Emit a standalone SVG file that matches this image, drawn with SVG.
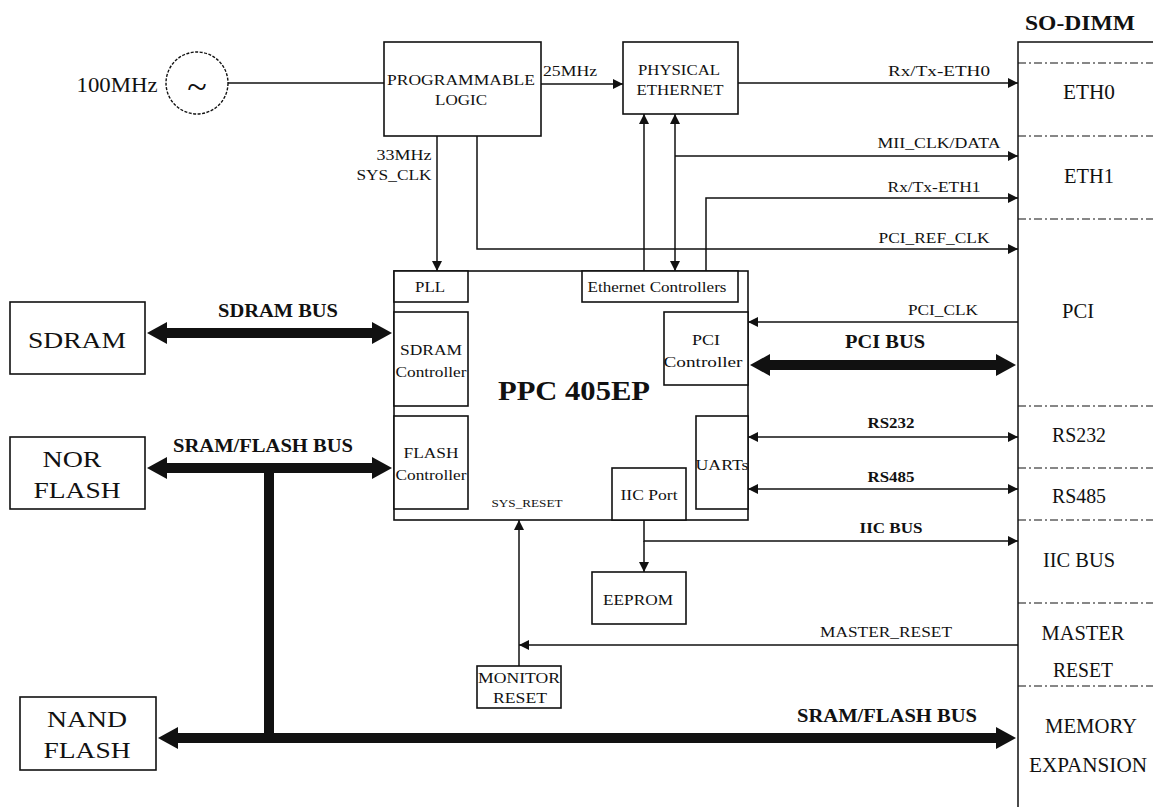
<svg xmlns="http://www.w3.org/2000/svg" width="1153" height="807" viewBox="0 0 1153 807">
<style>
.box{fill:#fff;stroke:#111;stroke-width:1.6}
text{font-family:"Liberation Serif",serif;fill:#111;text-anchor:middle}
.s{font-size:14px}
.m{font-size:15px}
.l{font-size:20px}
.xl{font-size:24px}
.b{font-weight:bold}
.w{stroke:#111;stroke-width:1.5;fill:none}
.bus{stroke:#111;stroke-width:10;fill:none}
.dd{stroke:#111;stroke-width:1.2;stroke-dasharray:8 3 2 3}
</style>
<defs>
<marker id="a" markerUnits="userSpaceOnUse" viewBox="0 0 10 10" markerWidth="10" markerHeight="10" refX="10" refY="5" orient="auto-start-reverse"><path d="M0,0 L10,5 L0,10 z" fill="#111"/></marker>
<marker id="A" markerUnits="userSpaceOnUse" viewBox="0 0 20 22" markerWidth="20" markerHeight="22" refX="2" refY="11" orient="auto-start-reverse"><path d="M0,0 L20,11 L0,22 z" fill="#111"/></marker>
</defs>

<g id="sodimm">
<text class="b" style="font-size:22px" x="1080" y="30" textLength="110" lengthAdjust="spacingAndGlyphs">SO-DIMM</text>
<path d="M1018,807 V42 H1153" class="w"/>
<line class="dd" x1="1018" y1="63" x2="1153" y2="63"/>
<line class="dd" x1="1018" y1="136" x2="1153" y2="136"/>
<line class="dd" x1="1018" y1="219" x2="1153" y2="219"/>
<line class="dd" x1="1018" y1="406" x2="1153" y2="406"/>
<line class="dd" x1="1018" y1="468" x2="1153" y2="468"/>
<line class="dd" x1="1018" y1="520" x2="1153" y2="520"/>
<line class="dd" x1="1018" y1="603" x2="1153" y2="603"/>
<line class="dd" x1="1018" y1="686" x2="1153" y2="686"/>
<text class="l" x="1089" y="99" textLength="52" lengthAdjust="spacingAndGlyphs">ETH0</text>
<text class="l" x="1089" y="183" textLength="50" lengthAdjust="spacingAndGlyphs">ETH1</text>
<text class="l" x="1078" y="318" textLength="32" lengthAdjust="spacingAndGlyphs">PCI</text>
<text class="l" x="1079" y="442" textLength="54" lengthAdjust="spacingAndGlyphs">RS232</text>
<text class="l" x="1079" y="503" textLength="54" lengthAdjust="spacingAndGlyphs">RS485</text>
<text class="l" x="1079" y="567" textLength="72" lengthAdjust="spacingAndGlyphs">IIC BUS</text>
<text class="l" x="1083" y="640" textLength="83" lengthAdjust="spacingAndGlyphs">MASTER</text>
<text class="l" x="1083" y="677" textLength="60" lengthAdjust="spacingAndGlyphs">RESET</text>
<text class="l" x="1091" y="733" textLength="92" lengthAdjust="spacingAndGlyphs">MEMORY</text>
<text class="l" x="1088" y="772" textLength="118" lengthAdjust="spacingAndGlyphs">EXPANSION</text>
</g>

<g id="osc">
<text style="font-size:22px" x="117" y="92" textLength="81" lengthAdjust="spacingAndGlyphs">100MHz</text>
<circle cx="197" cy="83" r="31" fill="#fff" stroke="#111" stroke-width="1.4" stroke-dasharray="3 1.5"/>
<text x="197" y="99" style="font-size:36px">~</text>
</g>

<g id="plogic">
<rect class="box" x="384" y="42" width="157" height="94"/>
<text class="m" x="461" y="85" textLength="148" lengthAdjust="spacingAndGlyphs">PROGRAMMABLE</text>
<text class="m" x="461" y="105" textLength="52" lengthAdjust="spacingAndGlyphs">LOGIC</text>
</g>

<g id="phy">
<rect class="box" x="623" y="42" width="115" height="72"/>
<text class="m" x="679" y="75" textLength="82" lengthAdjust="spacingAndGlyphs">PHYSICAL</text>
<text class="m" x="680" y="95" textLength="87" lengthAdjust="spacingAndGlyphs">ETHERNET</text>
</g>

<g id="ppc">
<rect class="box" x="394" y="271" width="354" height="249"/>
<text class="b" x="574" y="400" style="font-size:28px" textLength="152" lengthAdjust="spacingAndGlyphs">PPC 405EP</text>
<text x="527" y="507" style="font-size:11px" textLength="71" lengthAdjust="spacingAndGlyphs">SYS_RESET</text>
</g>
<g id="pll"><rect class="box" x="394" y="271" width="74" height="31"/><text class="s" x="430" y="292" textLength="30" lengthAdjust="spacingAndGlyphs">PLL</text></g>
<g id="ethctl"><rect class="box" x="582" y="271" width="156" height="31"/><text class="s" x="657" y="292" textLength="139" lengthAdjust="spacingAndGlyphs">Ethernet Controllers</text></g>
<g id="sdramctl"><rect class="box" x="394" y="312" width="74" height="94"/><text class="s" x="431" y="355" textLength="62" lengthAdjust="spacingAndGlyphs">SDRAM</text><text class="s" x="431" y="377" textLength="71" lengthAdjust="spacingAndGlyphs">Controller</text></g>
<g id="flashctl"><rect class="box" x="394" y="416" width="74" height="93"/><text class="s" x="431" y="458" textLength="55" lengthAdjust="spacingAndGlyphs">FLASH</text><text class="s" x="431" y="480" textLength="71" lengthAdjust="spacingAndGlyphs">Controller</text></g>
<g id="pcictl"><rect class="box" x="664" y="312" width="84" height="73"/><text class="s" x="706" y="345" textLength="28" lengthAdjust="spacingAndGlyphs">PCI</text><text class="s" x="703" y="367" textLength="79" lengthAdjust="spacingAndGlyphs">Controller</text></g>
<g id="uarts"><rect class="box" x="696" y="416" width="52" height="93"/><text class="s" x="722" y="470" textLength="53" lengthAdjust="spacingAndGlyphs">UARTs</text></g>
<g id="iicport"><rect class="box" x="612" y="468" width="74" height="52"/><text class="s" x="649" y="500" textLength="57" lengthAdjust="spacingAndGlyphs">IIC Port</text></g>

<g id="sdram"><rect class="box" x="10" y="302" width="135" height="72"/><text class="xl" x="77" y="348" textLength="98" lengthAdjust="spacingAndGlyphs">SDRAM</text></g>
<g id="norflash"><rect class="box" x="10" y="437" width="135" height="72"/><text class="xl" x="72" y="467" textLength="59" lengthAdjust="spacingAndGlyphs">NOR</text><text class="xl" x="77" y="498" textLength="87" lengthAdjust="spacingAndGlyphs">FLASH</text></g>
<g id="nandflash"><rect class="box" x="20" y="697" width="136" height="73"/><text class="xl" x="87" y="727" textLength="80" lengthAdjust="spacingAndGlyphs">NAND</text><text class="xl" x="87" y="758" textLength="87" lengthAdjust="spacingAndGlyphs">FLASH</text></g>
<g id="eeprom"><rect class="box" x="592" y="572" width="94" height="52"/><text class="s" x="638" y="605" textLength="70" lengthAdjust="spacingAndGlyphs">EEPROM</text></g>
<g id="monreset"><rect class="box" x="477" y="666" width="84" height="42"/><text class="s" x="519" y="683" textLength="82" lengthAdjust="spacingAndGlyphs">MONITOR</text><text class="s" x="520" y="703" textLength="54" lengthAdjust="spacingAndGlyphs">RESET</text></g>

<g id="connectors">
<line class="w" x1="228" y1="83" x2="384" y2="83"/>
<line class="w" x1="541" y1="84" x2="623" y2="84" marker-end="url(#a)"/>
<text class="s" x="570" y="76" textLength="54" lengthAdjust="spacingAndGlyphs">25MHz</text>
<line class="w" x1="738" y1="83" x2="1018" y2="83" marker-end="url(#a)"/>
<text class="s" x="939" y="76" textLength="102" lengthAdjust="spacingAndGlyphs">Rx/Tx-ETH0</text>
<line class="w" x1="437" y1="136" x2="437" y2="271" marker-end="url(#a)"/>
<text class="s" x="404" y="160" textLength="55" lengthAdjust="spacingAndGlyphs">33MHz</text>
<text class="s" x="394" y="180" textLength="75" lengthAdjust="spacingAndGlyphs">SYS_CLK</text>
<polyline class="w" points="477,136 477,249 1018,249" marker-end="url(#a)"/>
<text class="s" x="934" y="243" textLength="111" lengthAdjust="spacingAndGlyphs">PCI_REF_CLK</text>
<line class="w" x1="644" y1="271" x2="644" y2="114" marker-end="url(#a)"/>
<line class="w" x1="675" y1="114" x2="675" y2="271" marker-start="url(#a)" marker-end="url(#a)"/>
<line class="w" x1="675" y1="156" x2="1018" y2="156" marker-end="url(#a)"/>
<text class="s" x="939" y="148" textLength="123" lengthAdjust="spacingAndGlyphs">MII_CLK/DATA</text>
<polyline class="w" points="706,271 706,198 1018,198" marker-end="url(#a)"/>
<text class="s" x="934" y="192" textLength="93" lengthAdjust="spacingAndGlyphs">Rx/Tx-ETH1</text>
<line class="w" x1="1018" y1="322" x2="748" y2="322" marker-end="url(#a)"/>
<text class="s" x="943" y="315" textLength="70" lengthAdjust="spacingAndGlyphs">PCI_CLK</text>
<line class="bus" x1="768" y1="365" x2="998" y2="365" marker-start="url(#A)" marker-end="url(#A)"/>
<text class="b" style="font-size:19px" x="885" y="348" textLength="80" lengthAdjust="spacingAndGlyphs">PCI BUS</text>
<line class="w" x1="748" y1="437" x2="1018" y2="437" marker-start="url(#a)" marker-end="url(#a)"/>
<text class="b s" x="891" y="428" textLength="47" lengthAdjust="spacingAndGlyphs">RS232</text>
<line class="w" x1="748" y1="489" x2="1018" y2="489" marker-start="url(#a)" marker-end="url(#a)"/>
<text class="b s" x="891" y="482" textLength="47" lengthAdjust="spacingAndGlyphs">RS485</text>
<polyline class="w" points="644,520 644,541 1018,541" marker-end="url(#a)"/>
<line class="w" x1="644" y1="541" x2="644" y2="572" marker-end="url(#a)"/>
<text class="b s" x="891" y="533" textLength="63" lengthAdjust="spacingAndGlyphs">IIC BUS</text>
<line class="w" x1="1018" y1="645" x2="519" y2="645" marker-end="url(#a)"/>
<text class="s" x="886" y="637" textLength="132" lengthAdjust="spacingAndGlyphs">MASTER_RESET</text>
<line class="w" x1="519" y1="666" x2="519" y2="520" marker-end="url(#a)"/>
<line class="bus" x1="165" y1="333" x2="374" y2="333" marker-start="url(#A)" marker-end="url(#A)"/>
<text class="b" style="font-size:19px" x="278" y="317" textLength="120" lengthAdjust="spacingAndGlyphs">SDRAM BUS</text>
<line class="bus" x1="165" y1="468" x2="374" y2="468" marker-start="url(#A)" marker-end="url(#A)"/>
<text class="b" style="font-size:19px" x="263" y="452" textLength="180" lengthAdjust="spacingAndGlyphs">SRAM/FLASH BUS</text>
<line class="bus" x1="269" y1="468" x2="269" y2="738"/>
<line class="bus" x1="176" y1="738" x2="998" y2="738" marker-start="url(#A)" marker-end="url(#A)"/>
<text class="b" style="font-size:19px" x="887" y="722" textLength="180" lengthAdjust="spacingAndGlyphs">SRAM/FLASH BUS</text>
</g>
</svg>
